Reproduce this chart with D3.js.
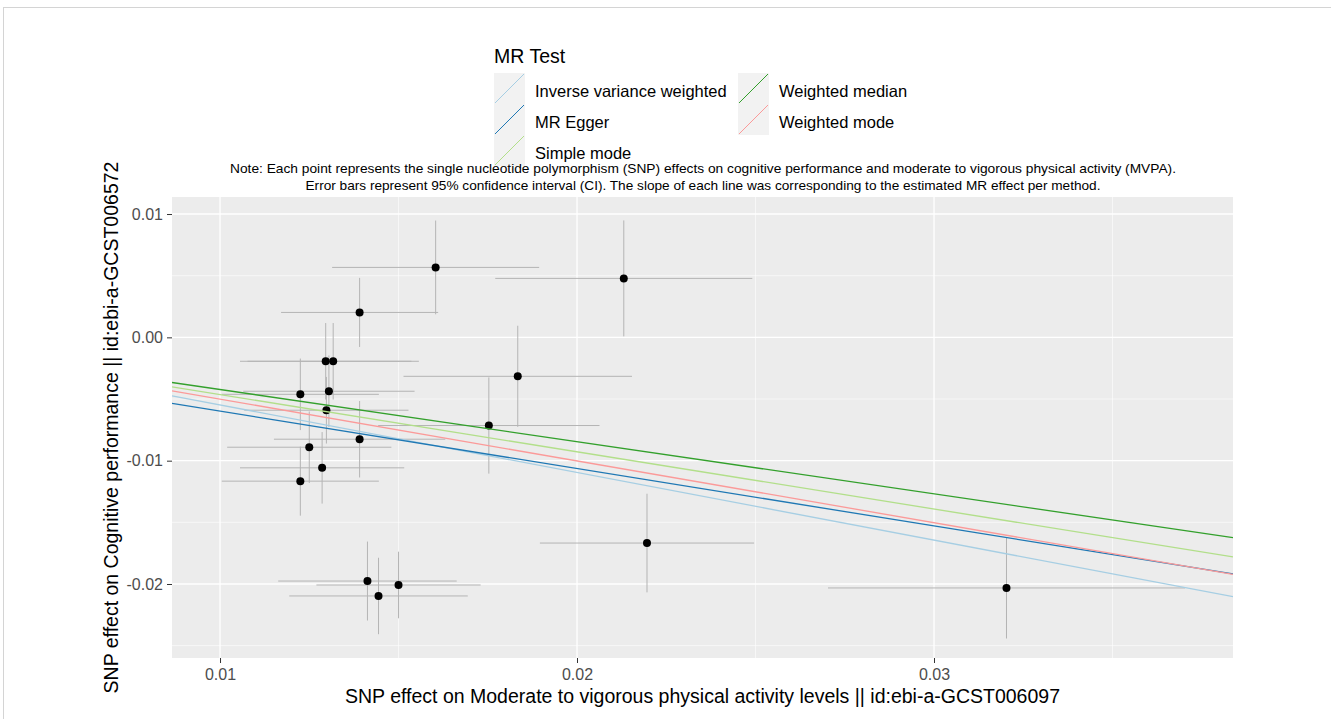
<html>
<meta charset="UTF-8">
<head>
    <title>MR scatter plot</title>
    <script src="https://d3js.org/d3.v7.min.js"></script>
    <style>
        body {
            margin: 0;
            background: white;
            font-family: "Liberation Sans", Arial, sans-serif;
        }
        .gridMajor line { stroke: white; stroke-width: 1.3; }
        .gridMinor line { stroke: white; stroke-width: 0.6; }
        .axis .domain { stroke: none; }
        .axis line { stroke: #333; }
        .axis text { fill: #4d4d4d; font-size: 16px; font-family: "Liberation Sans", Arial, sans-serif; }
    </style>
</head>
<body>
    <svg id="graph" width="1331" height="719"></svg>
</body>
<script>
    // SNP estimates (exposure = MVPA, outcome = cognitive performance)
    const snpX   = [0.01604, 0.01391, 0.02131, 0.01296, 0.01317, 0.01834, 0.01225, 0.01305, 0.01298,
                    0.01753, 0.01391, 0.01250, 0.01286, 0.01225, 0.02196, 0.01413, 0.01500, 0.01444, 0.03203];
    const snpY   = [0.00567, 0.00202, 0.00478, -0.00194, -0.00194, -0.00316, -0.00462, -0.00437, -0.00591,
                    -0.00715, -0.00826, -0.00891, -0.01058, -0.01166, -0.01668, -0.01976, -0.02008, -0.02097, -0.02032];
    // half width of the 95% CI on each axis
    const snpXci = [0.0029, 0.0022, 0.0036, 0.0024, 0.0024, 0.0032, 0.0022, 0.0024, 0.0023,
                    0.0031, 0.0024, 0.0023, 0.0023, 0.0022, 0.0030, 0.0025, 0.0023, 0.0025, 0.0050];
    const snpYci = [0.0038, 0.0028, 0.0047, 0.0031, 0.0031, 0.0041, 0.0029, 0.0029, 0.0027,
                    0.0039, 0.0031, 0.0029, 0.0029, 0.0028, 0.0040, 0.0032, 0.0027, 0.0031, 0.0041];

    // MR methods
    const methodNames      = ["Inverse variance weighted", "MR Egger", "Simple mode", "Weighted median", "Weighted mode"];
    const methodSlopes     = [-0.548, -0.4653, -0.464, -0.423, -0.501];
    const methodIntercepts = [0, -0.00133, 0, 0, 0];
    const methodColors     = ["#a6cee3", "#1f78b4", "#b2df8a", "#33a02c", "#fb9a99"];

    const xTicks = [0.01, 0.02, 0.03];
    const yTicks = [-0.02, -0.01, 0.00, 0.01];
    const xMinor = [0.015, 0.025, 0.035];
    const yMinor = [-0.025, -0.015, -0.005, 0.005];

    const noteLines = [
        "Note: Each point represents the single nucleotide polymorphism (SNP) effects on cognitive performance and moderate to vigorous physical activity (MVPA).",
        "Error bars represent 95% confidence interval (CI). The slope of each line was corresponding to the estimated MR effect per method."
    ];

    const g = d3.select("svg#graph");

    // panel box
    const panel = {left: 172, right: 1233, top: 197, bottom: 658};
    const pw = panel.right - panel.left;
    const ph = panel.bottom - panel.top;

    const xScale = d3.scaleLinear().domain([0.008655, 0.038375]).range([panel.left, panel.right]);
    const yScale = d3.scaleLinear().domain([-0.0260, 0.01138]).range([panel.bottom, panel.top]);

    // light frame round the figure
    g.append("rect")
        .attr("x", 3.5).attr("y", 7.5)
        .attr("width", 1340).attr("height", 720)
        .attr("fill", "none")
        .attr("stroke", "#d4d4d4");

    // panel background
    g.append("rect")
        .attr("x", panel.left).attr("y", panel.top)
        .attr("width", pw).attr("height", ph)
        .attr("fill", "#ececec");

    // grid lines
    const minor = g.append("g").attr("class", "gridMinor");
    minor.selectAll("line.v").data(xMinor).join("line").attr("class", "v")
        .attr("x1", d => xScale(d)).attr("x2", d => xScale(d))
        .attr("y1", panel.top).attr("y2", panel.bottom);
    minor.selectAll("line.h").data(yMinor).join("line").attr("class", "h")
        .attr("y1", d => yScale(d)).attr("y2", d => yScale(d))
        .attr("x1", panel.left).attr("x2", panel.right);

    const major = g.append("g").attr("class", "gridMajor");
    major.selectAll("line.v").data(xTicks).join("line").attr("class", "v")
        .attr("x1", d => xScale(d)).attr("x2", d => xScale(d))
        .attr("y1", panel.top).attr("y2", panel.bottom);
    major.selectAll("line.h").data(yTicks).join("line").attr("class", "h")
        .attr("y1", d => yScale(d)).attr("y2", d => yScale(d))
        .attr("x1", panel.left).attr("x2", panel.right);

    // axes (ggplot prints a plain hyphen for the minus sign)
    const fmt = d => d3.format(".2f")(d).replace("\u2212", "-");
    g.append("g").attr("class", "axis")
        .attr("transform", `translate(0,${panel.bottom})`)
        .call(d3.axisBottom(xScale).tickValues(xTicks).tickFormat(fmt).tickSize(5).tickPadding(6));
    g.append("g").attr("class", "axis")
        .attr("transform", `translate(${panel.left},0)`)
        .call(d3.axisLeft(yScale).tickValues(yTicks).tickFormat(fmt).tickSize(5).tickPadding(4));

    const points = snpX.map((x, i) => ({x: x, y: snpY[i], xci: snpXci[i], yci: snpYci[i]}));

    // clip to the panel
    g.append("clipPath").attr("id", "clip")
        .append("rect")
        .attr("x", panel.left).attr("y", panel.top)
        .attr("width", pw).attr("height", ph);

    const plotArea = g.append("g").attr("clip-path", "url(#clip)");

    // error bars
    plotArea.selectAll("line.vbar").data(points).join("line").attr("class", "vbar")
        .attr("x1", d => xScale(d.x)).attr("x2", d => xScale(d.x))
        .attr("y1", d => yScale(d.y - d.yci)).attr("y2", d => yScale(d.y + d.yci))
        .attr("stroke", "#b4b4b4").attr("stroke-width", 1);
    plotArea.selectAll("line.hbar").data(points).join("line").attr("class", "hbar")
        .attr("y1", d => yScale(d.y)).attr("y2", d => yScale(d.y))
        .attr("x1", d => xScale(d.x - d.xci)).attr("x2", d => xScale(d.x + d.xci))
        .attr("stroke", "#b4b4b4").attr("stroke-width", 1);

    // points
    plotArea.selectAll("circle").data(points).join("circle")
        .attr("cx", d => xScale(d.x))
        .attr("cy", d => yScale(d.y))
        .attr("r", 4)
        .attr("fill", "black");

    // MR lines
    const xDom = xScale.domain();
    const methods = methodNames.map((n, i) => ({name: n, b: methodSlopes[i], a: methodIntercepts[i], col: methodColors[i]}));
    plotArea.selectAll("line.mr").data(methods).join("line").attr("class", "mr")
        .attr("x1", xScale(xDom[0])).attr("x2", xScale(xDom[1]))
        .attr("y1", d => yScale(d.a + d.b * xDom[0]))
        .attr("y2", d => yScale(d.a + d.b * xDom[1]))
        .attr("stroke", d => d.col)
        .attr("stroke-width", 1.3);

    // legend
    const legend = g.append("g").attr("id", "legend");
    legend.append("text")
        .attr("x", 494).attr("y", 63)
        .attr("font-size", "19.5px")
        .attr("fill", "black")
        .text("MR Test");

    const keySize = 31;
    const legendItems = legend.selectAll("g.item").data(methods).join("g").attr("class", "item")
        .attr("transform", (d, i) => {
            const col = Math.floor(i / 3), row = i % 3;
            return `translate(${494 + col * 244},${73 + row * 31})`;
        });
    legendItems.append("rect")
        .attr("width", keySize).attr("height", keySize)
        .attr("fill", "#f2f2f2");
    legendItems.append("line")
        .attr("x1", 1).attr("y1", keySize - 1)
        .attr("x2", keySize - 1).attr("y2", 1)
        .attr("stroke", d => d.col)
        .attr("stroke-width", 1);
    legendItems.append("text")
        .attr("x", keySize + 10).attr("y", 24)
        .attr("font-size", "16.5px")
        .attr("fill", "black")
        .text(d => d.name);

    // note under the legend
    g.selectAll("text.note").data(noteLines).join("text").attr("class", "note")
        .attr("x", 703)
        .attr("y", (d, i) => 173 + i * 17)
        .attr("text-anchor", "middle")
        .attr("font-size", "13px")
        .attr("fill", "black")
        .attr("textLength", (d, i) => i === 0 ? 946 : 795)
        .attr("lengthAdjust", "spacingAndGlyphs")
        .text(d => d);

    // axis titles
    g.append("text")
        .attr("x", (panel.left + panel.right) / 2)
        .attr("y", 703)
        .attr("text-anchor", "middle")
        .attr("font-size", "19.5px")
        .attr("fill", "black")
        .text("SNP effect on Moderate to vigorous physical activity levels || id:ebi-a-GCST006097");

    g.append("text")
        .attr("transform", `translate(118,${(panel.top + panel.bottom) / 2}) rotate(-90)`)
        .attr("text-anchor", "middle")
        .attr("font-size", "19.5px")
        .attr("fill", "black")
        .text("SNP effect on Cognitive performance || id:ebi-a-GCST006572");
</script>

</html>
